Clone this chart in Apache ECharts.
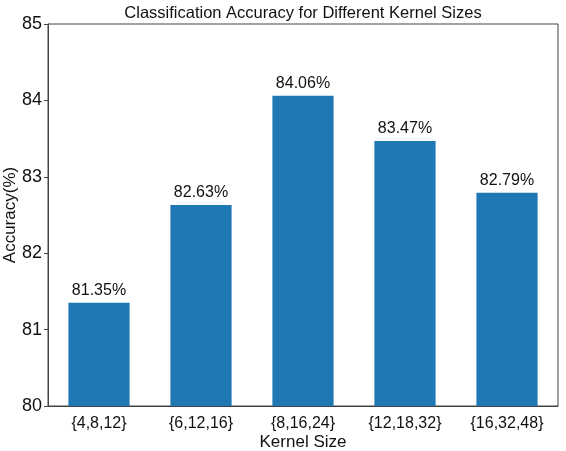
<!DOCTYPE html>
<html>
<head>
<meta charset="utf-8">
<script src="https://cdn.jsdelivr.net/npm/echarts@6/dist/echarts.min.js"></script>
<style>
  html, body { margin: 0; padding: 0; background: #fff; }
  #main { width: 566px; height: 451px; }
</style>
</head>
<body>
<div id="main"></div>
<script>
  const kernelSizes = ['{4,8,12}', '{6,12,16}', '{8,16,24}', '{12,18,32}', '{16,32,48}']
  const accuracy = [81.35, 82.63, 84.06, 83.47, 82.79]
  const yTicks = [80, 81, 82, 83, 84, 85]

  const font = 'Liberation Sans, Arial, sans-serif'
  const chart = echarts.init(document.getElementById('main'))
  const option = {
    animation: false,
    title: {
      text: 'Classification Accuracy for Different Kernel Sizes',
      left: 298,
      top: 0,
      textAlign: 'center',
      textStyle: { fontFamily: font, fontSize: 16.5, fontWeight: 'normal', color: '#111' },
    },
    grid: {
      left: 48,
      right: 8,
      top: 24,
      bottom: 45,
      outerBoundsMode: 'none',
      containLabel: false,
      show: true,
      borderColor: '#444',
      borderWidth: 1,
    },
    xAxis: {
      type: 'category',
      data: kernelSizes,
      name: 'Kernel Size',
      nameLocation: 'middle',
      nameGap: 28,
      nameMoveOverlap: false,
      nameTextStyle: { fontFamily: font, fontSize: 17, color: '#111' },
      axisLine: { lineStyle: { color: '#444', width: 1 } },
      axisTick: { alignWithLabel: true, length: 4, lineStyle: { color: '#444' } },
      axisLabel: { fontFamily: font, fontSize: 16, color: '#111', margin: 10 },
    },
    yAxis: {
      type: 'value',
      min: yTicks[0],
      max: yTicks[yTicks.length - 1],
      interval: 1,
      name: 'Accuracy(%)',
      nameLocation: 'middle',
      nameGap: 29,
      nameMoveOverlap: false,
      nameTextStyle: { fontFamily: font, fontSize: 17, color: '#111' },
      axisLine: { show: true, lineStyle: { color: '#444', width: 1 } },
      axisTick: { show: true, length: 4, lineStyle: { color: '#444' } },
      axisLabel: { fontFamily: font, fontSize: 18, color: '#111', margin: 6 },
      splitLine: { show: false },
    },
    series: [
      {
        type: 'bar',
        data: accuracy,
        barCategoryGap: '40%',
        itemStyle: { color: '#1f77b4' },
        label: {
          show: true,
          position: 'top',
          distance: 4,
          formatter: (p) => p.value.toFixed(2) + '%',
          fontFamily: font,
          fontSize: 16,
          color: '#111',
        },
      },
    ],
  }
  chart.setOption(option)
</script>
</body>
</html>
